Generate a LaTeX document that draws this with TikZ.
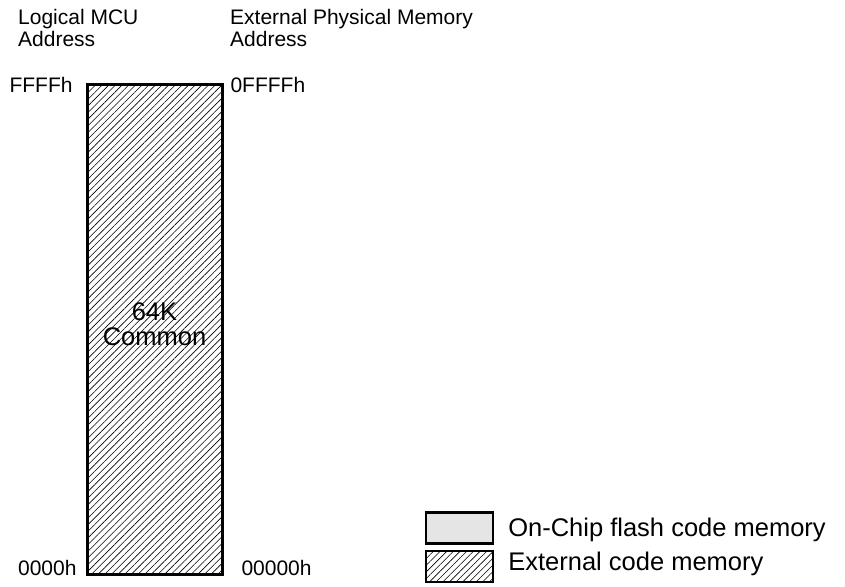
\documentclass[tikz,border=0pt]{standalone}
\usepackage{fontspec}
\setmainfont{Liberation Sans}
\usetikzlibrary{positioning,patterns.meta}

\begin{document}
\begin{tikzpicture}[x=1pt,y=-1pt,
		lbl/.style={inner sep=0pt,font=\fontsize{21}{22.5}\selectfont,align=left},
		hatch/.style={pattern={Lines[angle=45,distance=4.7pt,line width=0.6pt]}},
		membox/.style={draw,line width=3pt,hatch,inner sep=0pt,align=center,
			font=\fontsize{25.5}{25}\selectfont},
		keybox/.style={draw,line width=2.2pt,minimum width=67pt,minimum height=31pt,inner sep=0pt},
		keytext/.style={inner sep=0pt,font=\fontsize{25.5}{28}\selectfont,anchor=base west}
		]
		\useasboundingbox (0,0) rectangle (845,586);
		
		% column headers
		\node[lbl,anchor=north west] (logical) at (18,9) {Logical MCU\\Address};
		\node[lbl,anchor=north west] (physical) at (230,9) {External Physical Memory\\Address};
		
		% memory block
		\node[membox,minimum width=135pt,minimum height=490pt,text depth=10pt] (common) at (154.5,329) {64K\\Common};
		
		% address marks
		\node[lbl,anchor=base east] (logtop) at ([shift={(-14,9)}]common.north west) {FFFFh};
		\node[lbl,anchor=base west] (phytop) at ([shift={(8,9)}]common.north east) {0FFFFh};
		\node[lbl,anchor=base east] (logbot) at ([shift={(-10,1)}]common.south west) {0000h};
		\node[lbl,anchor=base west] (phybot) at ([shift={(19,1)}]common.south east) {00000h};
		
		% legend
		\node[keybox,fill=black!10] (flashkey) at (459.5,528) {};
		\node[keybox,hatch] (extkey) at (459.5,566.5) {};
		\node[keytext] (flashtext) at ([shift={(14,8)}]flashkey.east) {On-Chip flash code memory};
		\node[keytext] (exttext) at ([shift={(14,4)}]extkey.east) {External code memory};
	\end{tikzpicture}
\end{document}
